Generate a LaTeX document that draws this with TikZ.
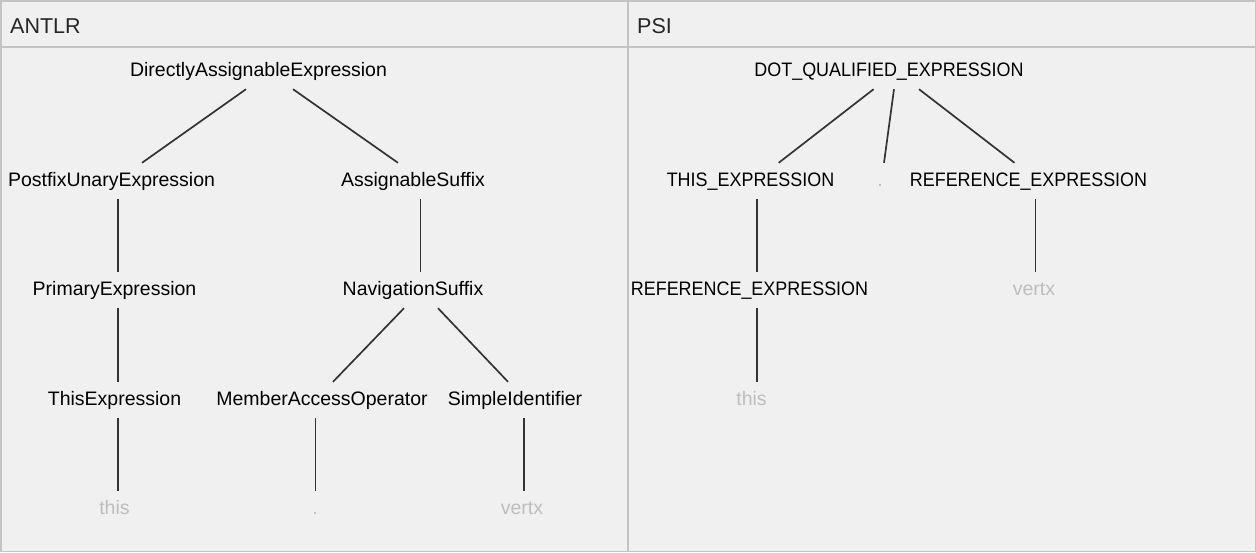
\documentclass[tikz,border=0pt]{standalone}
\usepackage{fontspec}
\setmainfont{Liberation Sans}
\newfontfamily\capsfont[FakeStretch=0.92]{Liberation Sans}
\usetikzlibrary{positioning}
\definecolor{panel}{HTML}{F0F0F0}
\definecolor{frame}{HTML}{C4C4C4}
\definecolor{leafgray}{HTML}{BDBDBD}
\definecolor{edgegray}{HTML}{333333}

\begin{document}
\begin{tikzpicture}[x=1pt,y=-1pt,
	tnode/.style={anchor=base, inner sep=0pt, text height=23pt, text depth=13pt, font=\fontsize{19.5}{22}\selectfont},
	capnode/.style={tnode, font=\capsfont\fontsize{19.5}{22}\selectfont},
	leaf/.style={tnode, text=leafgray},
	edge/.style={draw=edgegray, line width=1.7pt},
	head/.style={anchor=base west, inner sep=0pt, text=black!85, font=\fontsize{21.5}{24}\selectfont}]
	\useasboundingbox (0,0) rectangle (1256,552);
	\fill [panel] (0,0) rectangle (1256,552);
	\draw [frame, line width=1.5pt] (0.75,0.75) rectangle (1255.25,551.25);
	\draw [frame, line width=2pt] (0,47) to (1256,47);
	\draw [frame, line width=1.5pt] (628,0) to (628,552);

	% headers
	\node (H1) [head] at (10,33) {ANTLR};
	\node (H2) [head] at (637,33) {PSI};

	% ANTLR tree
	\node (dae) [tnode] at (258.5,76) {DirectlyAssignableExpression};
	\node (pue) [tnode] at (111.5,186) {PostfixUnaryExpression};
	\node (asuf) [tnode] at (413,186) {AssignableSuffix};
	\node (prim) [tnode] at (114.5,295) {PrimaryExpression};
	\node (nav) [tnode] at (413,295) {NavigationSuffix};
	\node (thise) [tnode] at (114.5,405) {ThisExpression};
	\node (mao) [tnode] at (322,405) {MemberAccessOperator};
	\node (simp) [tnode] at (515,405) {SimpleIdentifier};
	\node (lthis) [leaf] at (114.5,514) {this};
	\node (ldot) [leaf] at (315,514) {.};
	\node (lvertx) [leaf] at (522,514) {vertx};

	% PSI tree
	\node (dqe) [capnode] at (889,76) {DOT\_QUALIFIED\_EXPRESSION};
	\node (thisx) [capnode] at (750.5,186) {THIS\_EXPRESSION};
	\node (rdot) [leaf] at (880,186) {.};
	\node (refx) [capnode] at (1028.5,186) {REFERENCE\_EXPRESSION};
	\node (refy) [capnode] at (749.5,295) {REFERENCE\_EXPRESSION};
	\node (rvertx) [leaf] at (1034,295) {vertx};
	\node (rthis) [leaf] at (751.5,405) {this};

	\draw [edge] ([xshift=-12.5pt]dae.south) to ([xshift=30.5pt]pue.north);
	\draw [edge] ([xshift=34.5pt]dae.south) to ([xshift=-15pt]asuf.north);
	\draw [edge] ([xshift=6.5pt]pue.south) to ([xshift=3.5pt]prim.north);
	\draw [edge] ([xshift=3.5pt]prim.south) to ([xshift=3.5pt]thise.north);
	\draw [edge] ([xshift=3.5pt]thise.south) to ([xshift=3.5pt]lthis.north);
	\draw [edge] ([xshift=7.5pt]asuf.south) to ([xshift=7.5pt]nav.north);
	\draw [edge] ([xshift=-9pt]nav.south) to ([xshift=11pt]mao.north);
	\draw [edge] ([xshift=25pt]nav.south) to ([xshift=-7pt]simp.north);
	\draw [edge] ([xshift=-6.6pt]mao.south) to ([xshift=0.4pt]ldot.north);
	\draw [edge] ([xshift=9pt]simp.south) to ([xshift=2pt]lvertx.north);

	\draw [edge] ([xshift=-15.4pt]dqe.south) to ([xshift=28.2pt]thisx.north);
	\draw [edge] ([xshift=5pt]dqe.south) to ([xshift=4pt]rdot.north);
	\draw [edge] ([xshift=30pt]dqe.south) to ([xshift=-14pt]refx.north);
	\draw [edge] ([xshift=6.5pt]thisx.south) to ([xshift=7.5pt]refy.north);
	\draw [edge] ([xshift=7.5pt]refy.south) to ([xshift=5.5pt]rthis.north);
	\draw [edge] ([xshift=7pt]refx.south) to ([xshift=1.5pt]rvertx.north);
\end{tikzpicture}
\end{document}
